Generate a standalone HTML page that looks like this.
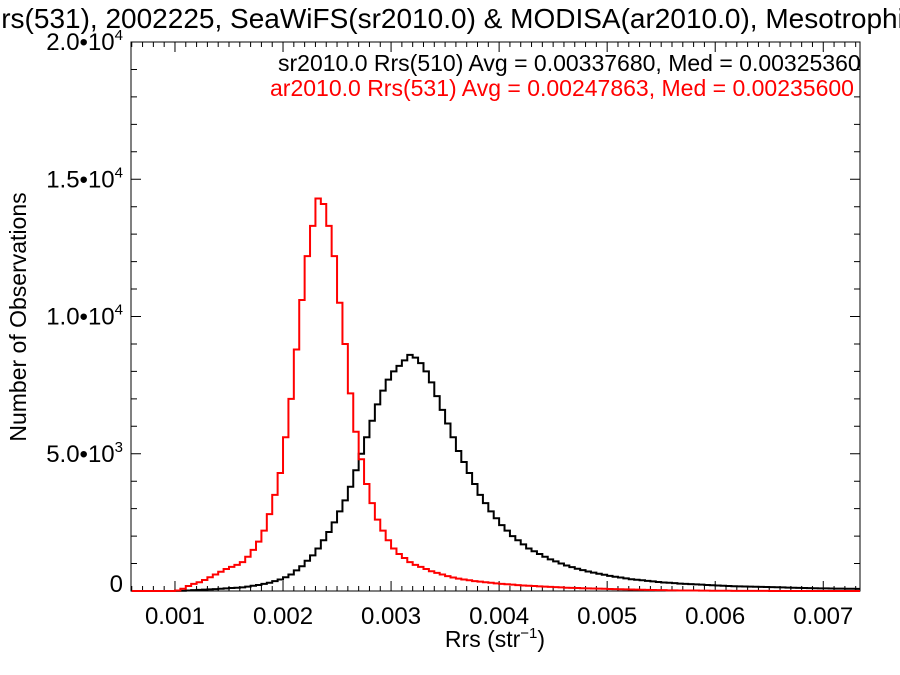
<!DOCTYPE html>
<html><head><meta charset="utf-8"><style>
html,body{margin:0;padding:0;background:#fff;}
svg{display:block;font-family:"Liberation Sans",sans-serif;}
</style></head><body>
<svg id="chart" width="900" height="675" xmlns="http://www.w3.org/2000/svg">
<text x="-19" y="28" font-size="28" fill="#000">Rrs(531), 2002225, SeaWiFS(sr2010.0) &amp; MODISA(ar2010.0), Mesotrophic</text>
<g id="axes"></g>
<g id="series"></g>
<text x="278" y="71" font-size="23" fill="#000">sr2010.0 Rrs(510) Avg = 0.00337680, Med = 0.00325360</text>
<text x="270" y="96" font-size="23" fill="#ff0000">ar2010.0 Rrs(531) Avg = 0.00247863, Med = 0.00235600</text>
<text x="495" y="647" font-size="23" text-anchor="middle">Rrs (str<tspan font-size="15" dy="-9">−1</tspan><tspan dy="9">)</tspan></text>
<text transform="translate(26,317) rotate(-90)" font-size="23" text-anchor="middle">Number of Observations</text>
</svg>
<script>
const binStart = 0.0006;
const binWidth = 0.00005;
const redCounts = [0,0,0,0,0,0,0,0,20,80,180,260,320,400,500,600,700,800,880,950,1050,1250,1500,1800,2200,2800,3500,4300,5600,7000,8800,10600,12200,13300,14300,14100,13300,12200,10500,9000,7200,5800,4800,3900,3200,2600,2200,1850,1550,1350,1200,1050,950,880,800,720,660,600,540,490,450,420,390,360,340,320,300,280,260,245,230,215,200,190,180,170,160,150,140,130,120,115,110,100,95,90,85,80,75,70,65,60,55,50,45,40,35,30,30,25,25,20,20,18,16,14,12,10,10,8,7,6,5,5,4,4,3,3,2,2,2,1,1,1,1,1,0,0,0,0,0,0,0,0,0];
const blackCounts = [0,0,0,0,0,0,0,0,5,10,20,30,40,50,60,70,80,95,110,120,130,160,190,220,260,300,360,420,500,600,750,900,1100,1300,1550,1850,2150,2500,2900,3300,3800,4400,5000,5600,6200,6800,7300,7700,8000,8200,8400,8600,8500,8300,8000,7600,7100,6600,6100,5600,5100,4700,4300,3900,3500,3200,2900,2650,2400,2200,2000,1850,1700,1550,1450,1350,1250,1150,1080,1000,930,870,810,760,710,670,630,590,550,520,490,460,430,410,390,370,350,330,310,300,285,270,260,250,240,230,220,210,200,190,180,175,170,165,160,155,150,145,140,135,130,125,120,115,110,105,100,97,94,91,88,85,82,80,78];
const xTickValues = [0.001,0.002,0.003,0.004,0.005,0.006,0.007];
const xTickLabels = ["0.001","0.002","0.003","0.004","0.005","0.006","0.007"];
const yTickValues = [0,5000,10000,15000,20000];
const yTickMant = ["0","5.0","1.0","1.5","2.0"];
const yTickExp = ["","3","4","4","4"];

const L=131,R=860,T=42,B=591;
const xMin=0.000593,xMax=0.00734,yMin=0,yMax=20000;
const xs=v=>L+(v-xMin)/(xMax-xMin)*(R-L);
const ys=v=>B-(v-yMin)/(yMax-yMin)*(B-T);
const NS="http://www.w3.org/2000/svg";
function mk(tag,attrs,parent){const e=document.createElementNS(NS,tag);for(const k in attrs)e.setAttribute(k,attrs[k]);parent.appendChild(e);return e;}
const axes=document.getElementById('axes');
const frame=mk('rect',{x:L,y:T,width:R-L,height:B-T,fill:'none',stroke:'#000','stroke-width':1},axes);


let d='';
for(let v=0.0006;v<=xMax+1e-9;v+=0.0001){const x=xs(v);const major=Math.abs(v*1000-Math.round(v*1000))<1e-6;const len=major?10:5;d+=`M${x},${B}v${-len}M${x},${T}v${len}`;}
for(let v=0;v<=yMax;v+=1000){const y=ys(v);const major=v%5000===0;const len=major?10:6;d+=`M${L},${y}h${len}M${R},${y}h${-len}`;}
const tk=mk('path',{d:d,stroke:'#000','stroke-width':1,fill:'none'},axes);


xTickValues.forEach((v,i)=>{const t=mk('text',{x:xs(v),y:624,'font-size':24,'text-anchor':'middle'},axes);t.textContent=xTickLabels[i];

});
yTickValues.forEach((v,i)=>{const t=mk('text',{x:123,y:ys(v)+(i===0?1:8),'font-size':24,'text-anchor':'end'},axes);


if(yTickExp[i]===''){t.textContent=yTickMant[i];}else{
t.appendChild(document.createTextNode(yTickMant[i]+'\u202210'));
const s=document.createElementNS(NS,'tspan');s.setAttribute('font-size','15');s.setAttribute('dy','-10');s.textContent=yTickExp[i];t.appendChild(s);}});
function stepPath(arr){let p='';for(let i=0;i<arr.length;i++){const x0=xs(binStart+i*binWidth),x1=xs(binStart+(i+1)*binWidth),y=ys(arr[i]);p+=(i===0?`M${x0},${y}`:`L${x0},${y}`)+`L${Math.min(x1,R)},${y}`;}return p;}
const g=document.getElementById('series');
const bl=mk('path',{d:stepPath(blackCounts),stroke:'#000','stroke-width':2,fill:'none'},g);


const rd=mk('path',{d:stepPath(redCounts),stroke:'#ff0000','stroke-width':2,fill:'none'},g);


</script>
</body></html>
